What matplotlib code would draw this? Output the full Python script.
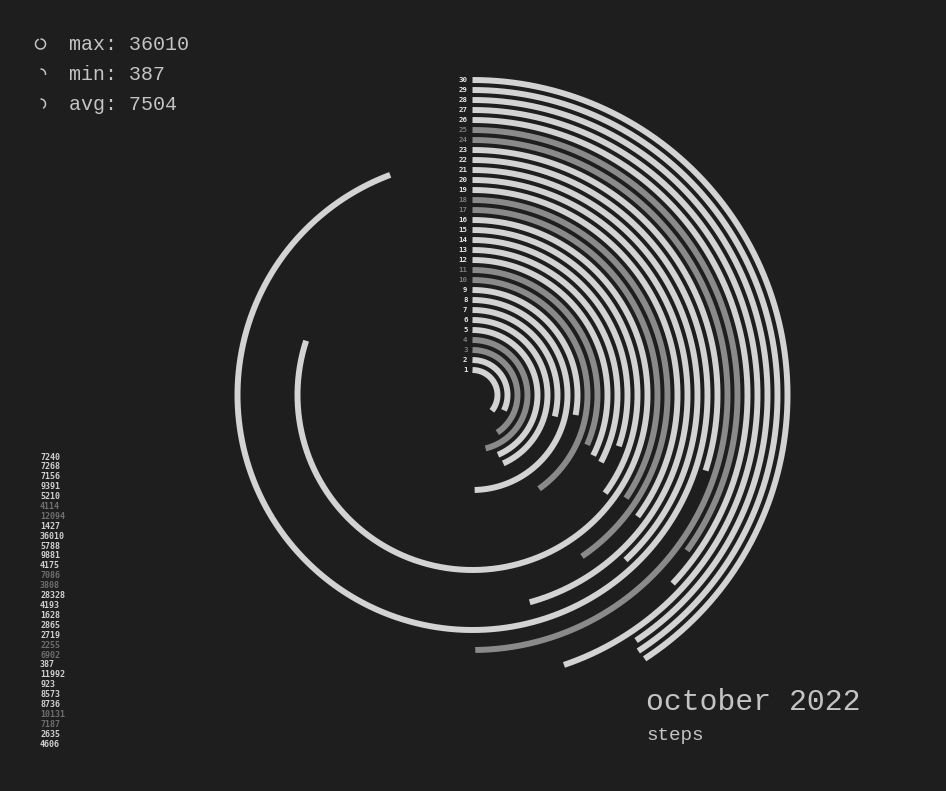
import numpy as np
import matplotlib
matplotlib.use("Agg")
import matplotlib.pyplot as plt
from matplotlib.patches import Arc

# ---- data ----
days = list(range(1, 31))
steps = [4606, 2635, 7187, 10131, 8736, 8573, 923, 11992, 387, 6902,
         2255, 2719, 2865, 1628, 4193, 28328, 3808, 7086, 4175, 9881,
         5788, 36010, 1427, 12094, 4114, 5210, 9391, 7156, 7268, 7240]
weekend = [d in (3, 4, 10, 11, 17, 18, 24, 25) for d in days]
avg_steps = 7504
title = "october 2022"
subtitle = "steps"

vmax, vmin = max(steps), min(steps)

BG = "#1e1e1e"
LIGHT = "#d3d3d3"
GRAY = "#8a8a8a"
TXT = "#c4c4c4"

W, H = 946, 791


def angle_deg(v):
    return 101 + (v - vmin) / (vmax - vmin) * (339.5 - 101)


fig = plt.figure(figsize=(W / 100, H / 100), dpi=100, facecolor=BG)

# polar axes centred at (473, 395) px with radius 330 px
cx, cy, R = 472.5, 395, 330
ax = fig.add_axes([(cx - R) / W, (H - cy - R) / H, 2 * R / W, 2 * R / H],
                  projection="polar")
ax.set_facecolor("none")
ax.set_theta_zero_location("N")
ax.set_theta_direction(-1)
ax.set_rlim(-1.5, 31.5)
ax.set_axis_off()

for d, v, we in zip(days, steps, weekend):
    th = np.radians(np.linspace(0, angle_deg(v), 400))
    ax.plot(th, np.full_like(th, d), color=GRAY if we else LIGHT,
            lw=4.3, solid_capstyle="butt")
    ax.annotate(str(d), xy=(0, d), xytext=(-3.6, 0), textcoords="offset points",
                ha="right", va="center", fontsize=5.3, fontweight="bold",
                family="DejaVu Sans Mono",
                color="#7a7a7a" if we else "#e6e6e6")


def fx(x):
    return x / W


def fy(y):
    return 1 - y / H


# left value list (top = day 30)
for i, (v, we) in enumerate(zip(steps[::-1], weekend[::-1])):
    fig.text(fx(40), fy(457 + i * 9.9), str(v), ha="left", va="center",
             fontsize=6.0, fontweight="bold", family="DejaVu Sans Mono",
             color="#6e6e6e" if we else "#d0d0d0")

# legend with icons
ov = fig.add_axes([0, 0, 1, 1])
ov.set_xlim(0, W)
ov.set_ylim(H, 0)
ov.set_axis_off()
ov.set_facecolor("none")

legend_items = [("max", vmax, 44), ("min", vmin, 74), ("avg", avg_steps, 104)]
for name, val, y in legend_items:
    a = angle_deg(val)
    ov.add_patch(Arc((40.5, y), 10, 10, angle=0, theta1=-90, theta2=-90 + a,
                     color=TXT, lw=1.1))
    fig.text(fx(69), fy(y), f"{name}: {val}", ha="left", va="center",
             fontsize=14.4, family="Liberation Mono", color=TXT)

fig.text(fx(646), fy(702), title, ha="left", va="center", fontsize=21.4,
         family="Liberation Mono", color=TXT)
fig.text(fx(646), fy(735), subtitle, ha="left", va="center", fontsize=13.9,
         family="Liberation Mono", color=TXT)

fig.savefig("out.png", dpi=100, facecolor=BG)
